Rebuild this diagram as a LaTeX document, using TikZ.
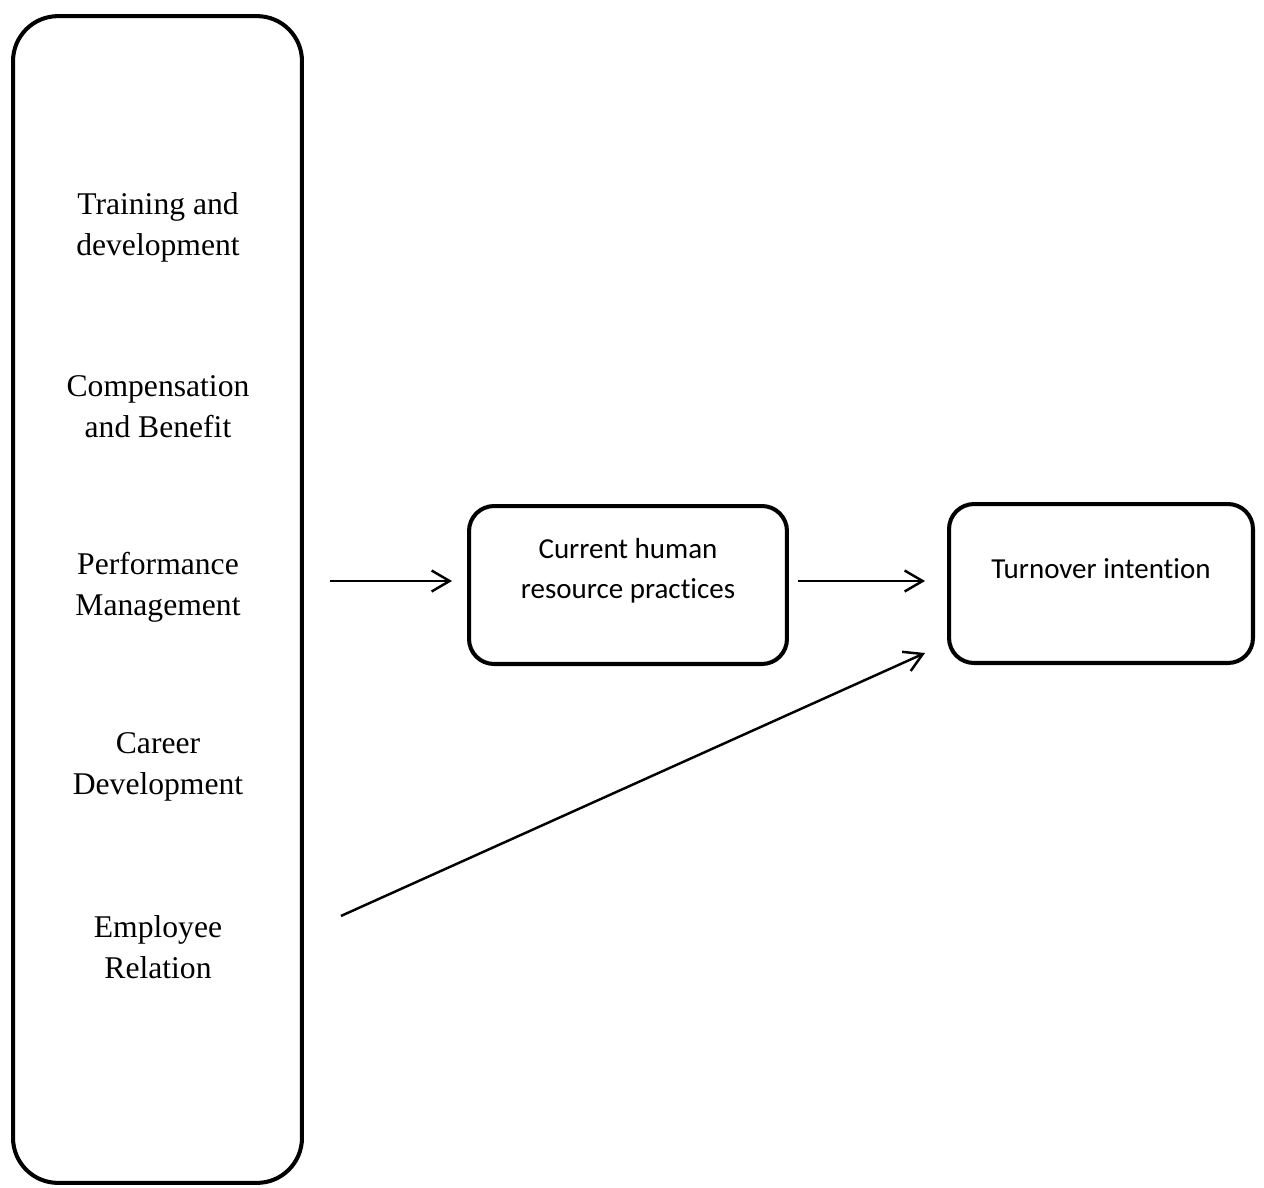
\documentclass[tikz,border=0pt]{standalone}
\usepackage{fontspec}
\setmainfont{Liberation Serif}
\newfontfamily\calibrifont[RawFeature=-liga]{Carlito}
\usepackage{tikz}
\usetikzlibrary{arrows.meta, positioning}

\begin{document}
\begin{tikzpicture}[
		x=0.02cm, y=-0.02cm,
		% Rounded frames (column on the left and the two boxes)
		frame/.style={
			draw=black,
			line width=2.3pt,
			rounded corners=#1,
			fill=none,
			outer sep=0pt,
			inner sep=0pt,
		},
		% Items listed in the left column
		itemstyle/.style={
			font=\fontsize{18}{23.3}\selectfont,
			align=center,
			text=black
		},
		% Text inside the boxes
		boxtext/.style={
			font=\calibrifont\fontsize{16.5}{22.7}\selectfont,
			align=center,
			text=black
		},
		% Connectors
		arr/.style={
			line width=1.4pt,
			-{Straight Barb[length=3.6mm,width=4.2mm,line width=1.4pt]}
		}
		]
		\useasboundingbox (0,0) rectangle (1264,1187);
		
		% --- BLOCKS ---
		\node[frame=0.9cm, minimum width=5.78cm, minimum height=23.34cm] (col) at (157.5,599.5) {};
		\node[frame=0.5cm, minimum width=6.36cm, minimum height=3.16cm] (hr) at (628,585) {};
		\node[frame=0.5cm, minimum width=6.08cm, minimum height=3.18cm] (turn) at (1101,583.5) {};
		
		% --- LEFT COLUMN ---
		\node[itemstyle] (train) at (158,227) {Training and\\development};
		\node[itemstyle] (comp) at (158,407) {Compensation\\and Benefit};
		\node[itemstyle] (perf) at (158,587) {Performance\\Management};
		\node[itemstyle] (career) at (158,767) {Career\\Development};
		\node[itemstyle] (empl) at (158,947) {Employee\\Relation};
		
		% --- BOX LABELS ---
		\node[boxtext] (hr-text) at ([yshift=0.28cm]hr.center) {Current human\\resource practices};
		\node[boxtext] (turn-text) at ([yshift=0.29cm]turn.center) {Turnover intention};
		
		% --- CONNECTORS ---
		\draw[arr, shorten <=0.56cm, shorten >=0.34cm] ([yshift=0.08cm]col.east |- hr.west) -- ([yshift=0.08cm]hr.west);
		\draw[arr, shorten <=0.22cm, shorten >=0.48cm] ([yshift=0.08cm]hr.east) -- ([yshift=0.08cm]hr.east -| turn.west);
		\draw[arr] ([xshift=0.78cm,yshift=-6.33cm]col.east) -- ([xshift=-0.48cm,yshift=0.2cm]turn.south west);
		
	\end{tikzpicture}
\end{document}
